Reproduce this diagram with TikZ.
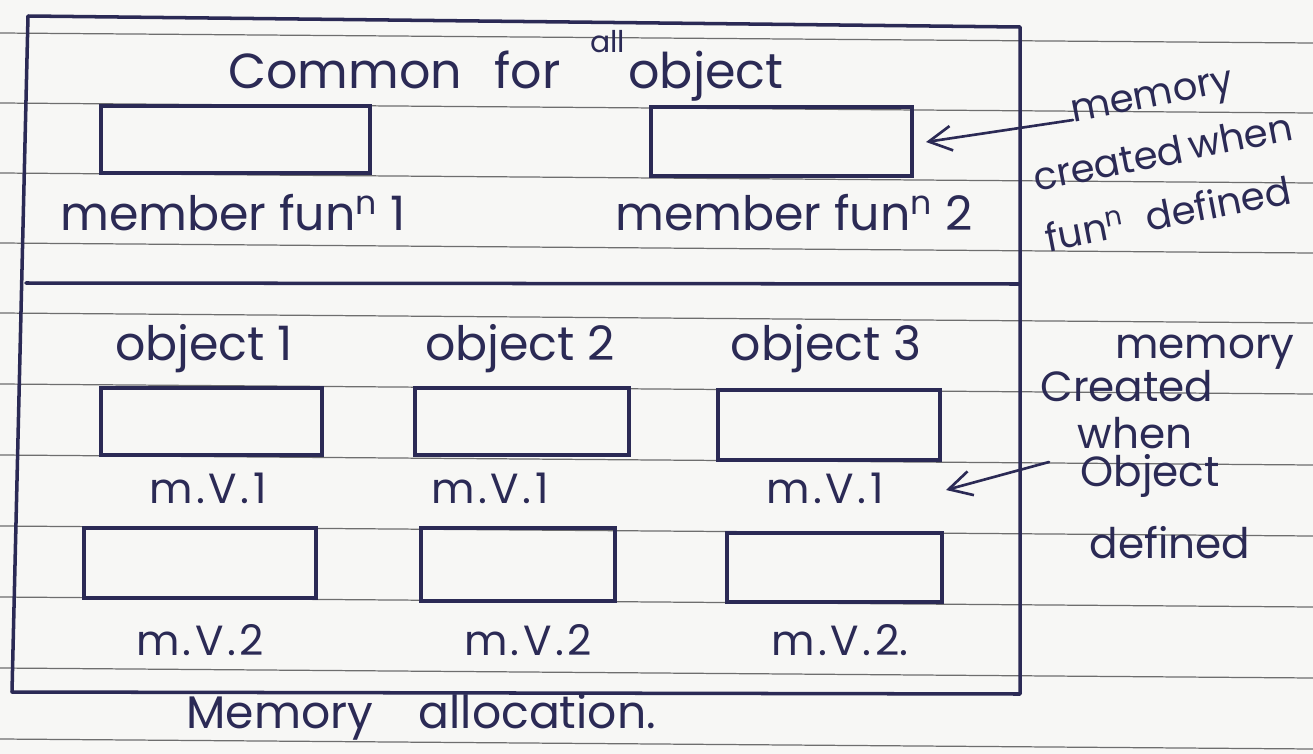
\documentclass[tikz,border=0pt]{standalone}
\usepackage{fontspec}
\setmainfont{Poppins}
\usetikzlibrary{arrows.meta,fit}
\definecolor{inkc}{HTML}{2B2A55}
\definecolor{paperc}{HTML}{F7F7F5}
\definecolor{rulec}{HTML}{6E6E6E}
\newcommand{\mv}[2]{m\kern2pt.\kern2pt V\kern2pt.\kern2pt #1#2}
\begin{document}
\begin{tikzpicture}[x=0.02cm,y=-0.02cm,
  ink/.style={draw=inkc, line width=2pt, line join=round, line cap=round},
  membox/.style={draw=inkc, line width=2pt, inner sep=0pt},
  head/.style={text=inkc, inner sep=0pt, font=\fontsize{28}{32}\selectfont},
  hand/.style={text=inkc, inner sep=0pt, font=\fontsize{27}{30}\selectfont},
  lab/.style={text=inkc, inner sep=0pt, font=\fontsize{24}{28}\selectfont},
  note/.style={text=inkc, inner sep=0pt, font=\fontsize{22}{24}\selectfont, rotate=11},
  noteb/.style={text=inkc, inner sep=0pt, font=\fontsize{24}{26}\selectfont},
  ruled/.style={draw=rulec, line width=0.7pt},
  arr/.style={draw=inkc, line width=1.5pt, line cap=round, -{Straight Barb[length=13pt,width=14pt,line width=1.5pt]}}
]
% paper
\fill[paperc] (0,0) rectangle (1313,754);
\useasboundingbox (0,0) rectangle (1313,754);
\foreach \yy in {33,103,173,243,313,384,455,526,597,668,739}
  \draw[ruled] (0,\yy) -- (1313,\yy+10);

% frame
\draw[ink] (28,16) -- (1020,27) -- (1020,694) -- (12,692) -- cycle;
\draw[ink] (26,283) -- (1020,284);

% top section
\node[head, anchor=base west] (common) at (228,88) {Common};
\node[head, anchor=base west] (for) at (494,88) {for};
\node[text=inkc, inner sep=0pt, font=\fontsize{17}{18}\selectfont, anchor=base west] (all) at (590,52) {all};
\node[head, anchor=base west] (obj) at (628,88) {object};
\node[membox, fit={(101,106)(370,173)}] (f1) {};
\node[membox, fit={(651,107)(912,176)}] (f2) {};
\node[hand, anchor=base west] (mf1) at (60,230) {member fun\textsuperscript{n} 1};
\node[hand, anchor=base west] (mf2) at (615,230) {member fun\textsuperscript{n} 2};

% annotation 1
\node[note] (n1a) at (1153,101) {memory};
\node[note] (n1b) at (1108,163) {created};
\node[note] (n1c) at (1240,136) {when};
\node[note] (n1d) at (1085,230) {fun\textsuperscript{n}};
\node[note] (n1e) at (1218,203) {defined};
\coordinate (a1) at (1073,120);
\coordinate (t1) at (926,142);
\draw[arr] (a1) -- (t1);

% objects
\node[hand, anchor=base] (o1) at (204,360) {object 1};
\node[hand, anchor=base] (o2) at (520,360) {object 2};
\node[hand, anchor=base] (o3) at (826,360) {object 3};

\node[membox, fit={(101,388)(322,455)}] (b11) {};
\node[membox, fit={(415,388)(629,455)}] (b12) {};
\node[membox, fit={(718,390)(940,460)}] (b13) {};
\node[lab, anchor=base] (v11) at (208,503) {\mv{1}{}};
\node[lab, anchor=base] (v12) at (490,503) {\mv{1}{}};
\node[lab, anchor=base] (v13) at (825,503) {\mv{1}{}};

\node[membox, fit={(84,528)(316,598)}] (b21) {};
\node[membox, fit={(421,528)(615,601)}] (b22) {};
\node[membox, fit={(727,533)(942,602)}] (b23) {};
\node[lab, anchor=base] (v21) at (200,655) {\mv{2}{}};
\node[lab, anchor=base] (v22) at (528,655) {\mv{2}{}};
\node[lab, anchor=base] (v23) at (840,655) {\mv{2}{.}};

% annotation 2
\node[noteb, anchor=base] (n2a) at (1205,358) {memory};
\node[noteb, anchor=base] (n2b) at (1127,401) {Created};
\node[noteb, anchor=base] (n2c) at (1135,448) {when};
\node[noteb, anchor=base] (n2d) at (1150,486) {Object};
\node[noteb, anchor=base] (n2e) at (1170,558) {defined};
\coordinate (a2) at (1049,462);
\coordinate (t2) at (946,490);
\draw[arr] (a2) -- (t2);

% caption
\node[lab, anchor=base west, font=\fontsize{26}{30}\selectfont] (cap) at (186,728) {Memory\hspace{26pt}allocation.};
\end{tikzpicture}
\end{document}
